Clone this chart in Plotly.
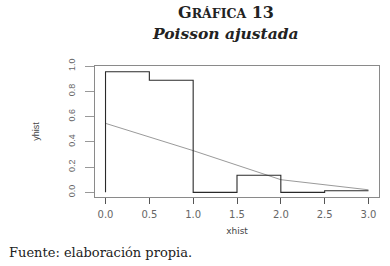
import plotly.graph_objects as go

# Histogram outline (step) data
xhist = [0.0, 0.0, 0.5, 1.0, 1.5, 2.0, 2.5, 3.0]
yhist = [0.0, 0.955, 0.887, 0.0, 0.135, 0.0, 0.013, 0.013]

# Fitted Poisson curve
xfit = [0, 1, 2, 3]
yfit = [0.546, 0.330, 0.100, 0.020]

xticks = [0.0, 0.5, 1.0, 1.5, 2.0, 2.5, 3.0]
xtick_labels = ["0.0", "0.5", "1.0", "1.5", "2.0", "2.5", "3.0"]
yticks = [0.0, 0.2, 0.4, 0.6, 0.8, 1.0]
ytick_labels = ["0.0", "0.2", "0.4", "0.6", "0.8", "1.0"]

title_main = "G<span style='font-size:12.5px'>RÁFICA</span> 13"
title_sub = "<b><i>Poisson ajustada</i></b>"
footer = "Fuente: elaboración propia."

fig = go.Figure()
fig.add_trace(go.Scatter(x=xfit, y=yfit, mode="lines",
                         line=dict(color="#9a9a9a", width=1), hoverinfo="skip"))
fig.add_trace(go.Scatter(x=xhist, y=yhist, mode="lines", line_shape="hv",
                         line=dict(color="#2a2a2a", width=1.1), hoverinfo="skip"))

W, H = 390, 266
l, r, t, b = 95, 11, 66, 69
pw, ph = W - l - r, H - t - b

fig.update_layout(
    width=W, height=H,
    margin=dict(l=l, r=r, t=t, b=b, autoexpand=False),
    paper_bgcolor="white", plot_bgcolor="white",
    showlegend=False,
    xaxis=dict(range=[-0.12, 3.12], tickvals=xticks, ticktext=xtick_labels,
               automargin=False,
               showgrid=False, zeroline=False, showline=True, mirror=True,
               linecolor="#8a8a8a", linewidth=1.2,
               ticks="outside", ticklen=6, tickcolor="#555", tickwidth=1,
               tickfont=dict(family="DejaVu Sans", size=10, color="#666"),
               ticklabelstandoff=2,
               title=dict(text="xhist", standoff=8,
                          font=dict(family="DejaVu Sans", size=9, color="#444"))),
    yaxis=dict(range=[-0.037, 1.0], tickvals=yticks, ticktext=ytick_labels,
               automargin=False,
               showgrid=False, zeroline=False, showline=True, mirror=True,
               linecolor="#8a8a8a", linewidth=1.2,
               ticks="outside", ticklen=9, tickcolor="#999", tickwidth=1,
               tickangle=-90,
               tickfont=dict(family="Liberation Sans", size=9, color="#666"),
               ticklabelstandoff=6,
               title=dict(text="yhist", standoff=26,
                          font=dict(family="Liberation Sans", size=9, color="#444"))),
)


def px_ann(text, x, y, size, family, xanchor="center"):
    fig.add_annotation(text=text, xref="paper", yref="paper",
                       x=(x - l) / pw, y=1 - (y - t) / ph,
                       xanchor=xanchor, yanchor="middle", showarrow=False,
                       borderpad=0,
                       font=dict(family=family, size=size, color="#222"))


px_ann("<b>" + title_main + "</b>", 226, 13, 16, "DejaVu Serif")
px_ann(title_sub, 225, 33, 15.5, "DejaVu Serif")
px_ann(footer, 8, 252, 13, "DejaVu Serif", xanchor="left")

fig.write_html("out.html", config={"displayModeBar": False},
               post_script="document.body.style.margin='0';document.body.style.padding='0';")
